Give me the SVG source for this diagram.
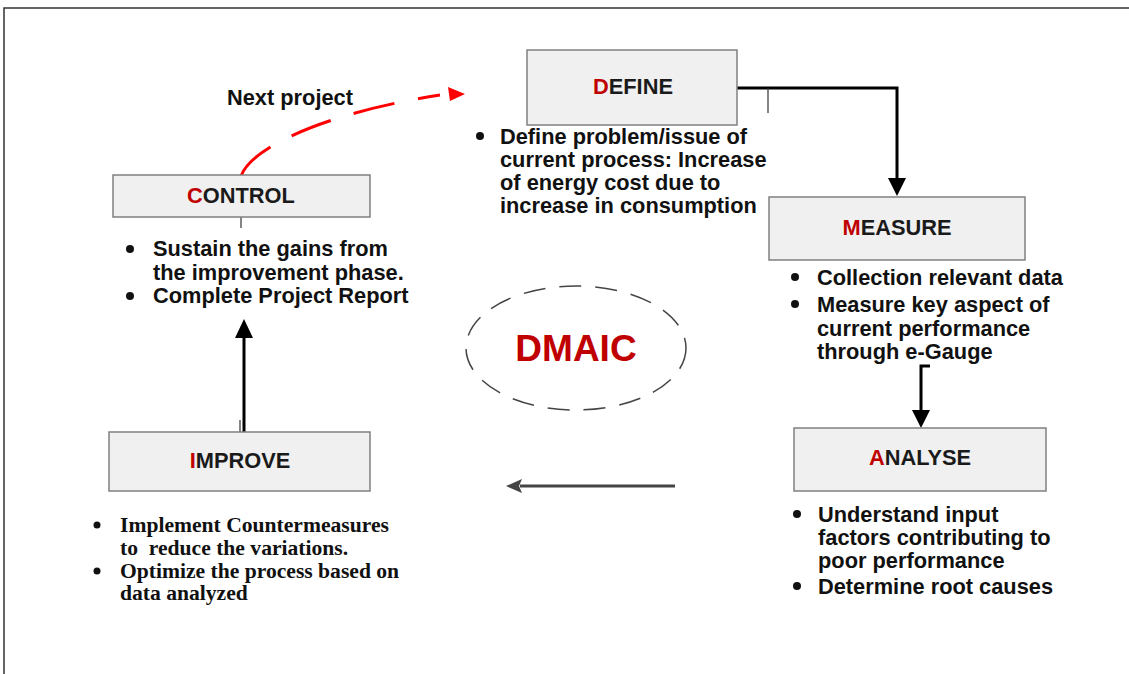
<svg xmlns="http://www.w3.org/2000/svg" width="1129" height="674" viewBox="0 0 1129 674">
<style>
.box{fill:#f0f0f0;stroke:#808080;stroke-width:1.5}
.lbl{font-family:"Liberation Sans",Arial,sans-serif;font-weight:bold;font-size:21.8px;fill:#1a1a1a;text-anchor:middle}
.red{fill:#c00000}
.bt{font-family:"Liberation Sans",Arial,sans-serif;font-weight:bold;font-size:21.8px;fill:#111}
.tm{font-family:"Liberation Serif","Times New Roman",serif;font-weight:bold;font-size:21.6px;fill:#111}
.dot{fill:#111}
.conn{fill:none;stroke:#000;stroke-width:3}
.thin{fill:none;stroke:#333;stroke-width:1.2}
</style>
<rect width="1129" height="674" fill="#fff"/>
<path d="M4,674 V8 H1129" fill="none" stroke="#333" stroke-width="1.5"/>

<g id="connectors">
  <path class="conn" d="M737,88 H897 V178"/>
  <polygon points="888,178 906,178 897,196" fill="#000"/>
  <line class="thin" x1="768" y1="88" x2="768" y2="113"/>
  <path class="conn" d="M930,366 H921 V410"/>
  <polygon points="912,410 930,410 921,428" fill="#000"/>
  <line x1="675" y1="486" x2="520" y2="486" stroke="#444" stroke-width="3"/>
  <polygon points="506,486 522,479 519,486 522,493" fill="#444"/>
  <line class="conn" x1="244" y1="432" x2="244" y2="338"/>
  <polygon points="235,338 253,338 244,319" fill="#000"/>
  <line class="thin" x1="240" y1="420" x2="240" y2="432"/>
  <line class="thin" x1="241" y1="217" x2="241" y2="228"/>
  <path d="M241,176 C252,146 330,112 440,95" fill="none" stroke="#ff0000" stroke-width="3" stroke-dasharray="42 24"/>
  <polygon points="448,87 465,94 450,101" fill="#ff0000"/>
  <text class="bt" x="227" y="105">Next project</text>
</g>

<g id="dmaic">
  <ellipse cx="576" cy="348" rx="110" ry="62" fill="none" stroke="#444" stroke-width="1.5" stroke-dasharray="22 14"/>
  <text x="576" y="361" font-family="Liberation Sans,Arial,sans-serif" font-weight="bold" font-size="37" fill="#c00000" text-anchor="middle">DMAIC</text>
</g>

<g id="define">
  <rect class="box" x="527" y="50" width="210" height="75"/>
  <text class="lbl" x="633" y="94"><tspan class="red">D</tspan>EFINE</text>
  <circle class="dot" cx="480" cy="136" r="4"/>
  <text class="bt" x="500" y="144">Define problem/issue of</text>
  <text class="bt" x="500" y="167">current process: Increase</text>
  <text class="bt" x="500" y="190">of energy cost due to</text>
  <text class="bt" x="500" y="213">increase in consumption</text>
</g>

<g id="measure">
  <rect class="box" x="769" y="197" width="256" height="63"/>
  <text class="lbl" x="897" y="235"><tspan class="red">M</tspan>EASURE</text>
  <circle class="dot" cx="795" cy="277" r="4"/>
  <text class="bt" x="817" y="285">Collection relevant data</text>
  <circle class="dot" cx="795" cy="304" r="4"/>
  <text class="bt" x="817" y="312">Measure key aspect of</text>
  <text class="bt" x="817" y="336">current performance</text>
  <text class="bt" x="817" y="359">through e-Gauge</text>
</g>

<g id="analyse">
  <rect class="box" x="794" y="428" width="252" height="63"/>
  <text class="lbl" x="920" y="465"><tspan class="red">A</tspan>NALYSE</text>
  <circle class="dot" cx="797" cy="514" r="4"/>
  <text class="bt" x="818" y="522">Understand input</text>
  <text class="bt" x="818" y="545">factors contributing to</text>
  <text class="bt" x="818" y="568">poor performance</text>
  <circle class="dot" cx="797" cy="586" r="4"/>
  <text class="bt" x="818" y="594">Determine root causes</text>
</g>

<g id="improve">
  <rect class="box" x="109" y="432" width="261" height="59"/>
  <text class="lbl" x="240" y="468"><tspan class="red">I</tspan>MPROVE</text>
  <circle class="dot" cx="97" cy="525" r="3.5"/>
  <text class="tm" x="120" y="532">Implement Countermeasures</text>
  <text class="tm" x="120" y="555" xml:space="preserve">to  reduce the variations.</text>
  <circle class="dot" cx="97" cy="571" r="3.5"/>
  <text class="tm" x="120" y="578">Optimize the process based on</text>
  <text class="tm" x="120" y="600">data analyzed</text>
</g>

<g id="control">
  <rect class="box" x="113" y="175" width="257" height="42"/>
  <text class="lbl" x="241" y="203"><tspan class="red">C</tspan>ONTROL</text>
  <circle class="dot" cx="130" cy="249" r="4"/>
  <text class="bt" x="153" y="256">Sustain the gains from</text>
  <text class="bt" x="153" y="280">the improvement phase.</text>
  <circle class="dot" cx="130" cy="296" r="4"/>
  <text class="bt" x="153" y="303">Complete Project Report</text>
</g>
</svg>
